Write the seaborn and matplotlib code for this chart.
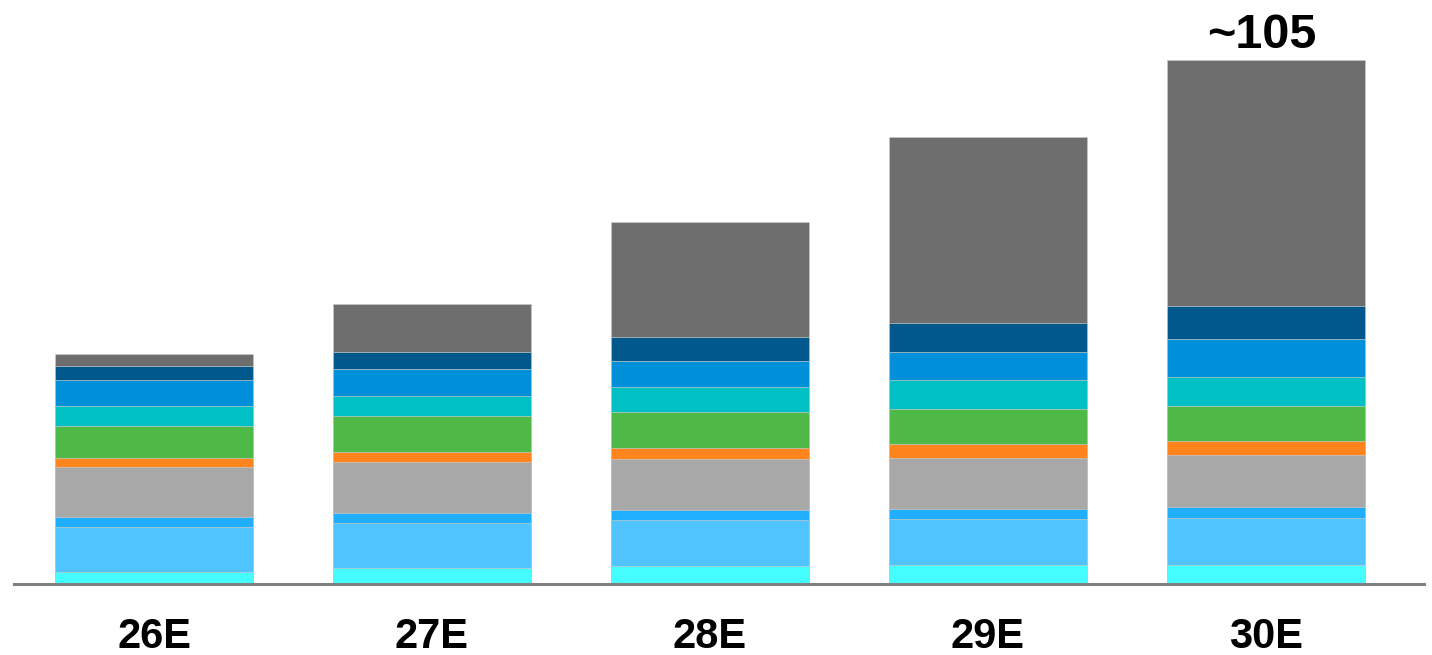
import numpy as np
import pandas as pd
import matplotlib
matplotlib.use("Agg")
import matplotlib.pyplot as plt
import seaborn as sns

# Periods on the x axis
periods = ["26E", "27E", "28E", "29E", "30E"]

# Segment values, listed bottom to top of each stack
seg_cyan       = [2.4, 3.2, 3.6, 3.8, 3.9]
seg_light_blue = [9.0, 9.1, 9.2, 9.2, 9.4]
seg_sky_blue   = [2.0, 2.0, 2.1, 2.0, 2.1]
seg_gray       = [10.0, 10.2, 10.1, 10.3, 10.4]
seg_orange     = [1.8, 1.9, 2.3, 2.7, 2.8]
seg_green      = [6.5, 7.2, 7.2, 7.1, 7.1]
seg_teal       = [3.9, 4.1, 4.9, 5.8, 5.7]
seg_blue       = [5.2, 5.3, 5.3, 5.6, 7.6]
seg_navy       = [2.9, 3.5, 4.7, 5.7, 6.5]
seg_dark_gray  = [2.3, 9.5, 23.1, 37.2, 49.2]

total_label = "~105"
label_period = "30E"

layers = [seg_cyan, seg_light_blue, seg_sky_blue, seg_gray, seg_orange,
          seg_green, seg_teal, seg_blue, seg_navy, seg_dark_gray]
colors = ["#44FDFF", "#4FC4FF", "#20AFFF", "#A8A8A8", "#FF841E",
          "#4FB948", "#00C0C4", "#008FD9", "#00588C", "#6E6E6E"]

sns.set_theme(style="white")
plt.rcParams["font.family"] = ["Liberation Sans", "DejaVu Sans"]

fig = plt.figure(figsize=(14.32, 6.55), dpi=100)
ax = fig.add_axes([14 / 1432, (655 - 584) / 655, 1410 / 1432, 584 / 655])

# Stack by drawing cumulative totals, tallest first
cum = np.cumsum(np.array(layers), axis=0)
for i in range(len(layers) - 1, -1, -1):
    df = pd.DataFrame({"period": periods, "value": cum[i]})
    sns.barplot(data=df, x="period", y="value", color=colors[i], ax=ax,
                width=0.712, saturation=1, edgecolor="#c8c8c8",
                linewidth=0.5, errorbar=None)

# Total annotation above the last bar
idx = periods.index(label_period)
ax.text(idx - 0.015, cum[-1][idx] + 2.6, total_label, ha="center",
        va="baseline", fontsize=35, fontweight="bold", color="black")

ax.set_xlim(-0.504, 4.57)
ax.set_ylim(0, 116.8)
ax.set_xlabel("")
ax.set_ylabel("")
ax.set_yticks([])
ax.tick_params(axis="x", length=0, pad=24, labelsize=30)
for lbl in ax.get_xticklabels():
    lbl.set_fontweight("bold")
    lbl.set_color("black")

for side in ["top", "left", "right"]:
    ax.spines[side].set_visible(False)
ax.spines["bottom"].set_color("#808080")
ax.spines["bottom"].set_linewidth(2.2)

fig.savefig("out.png", dpi=100)
